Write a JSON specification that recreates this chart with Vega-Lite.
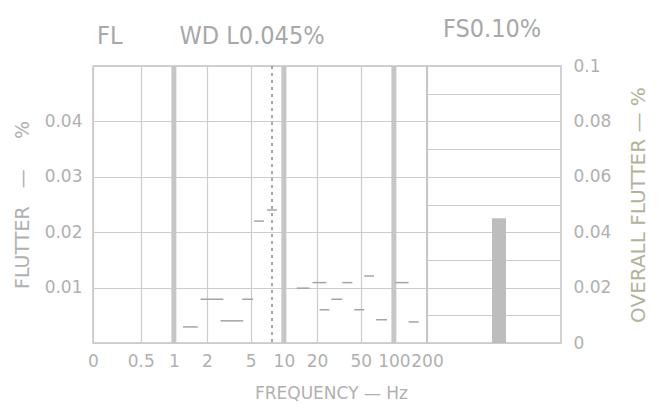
{
  "$schema": "https://vega.github.io/schema/vega-lite/v6.json",
  "background": "white",
  "padding": {"left": 12, "top": 16, "right": 10, "bottom": 5},
  "bounds": "flush",
  "spacing": 0,
  "config": {
    "view": {"stroke": "#c4c4c4", "strokeWidth": 1.5},
    "axis": {
      "labelFont": "DejaVu Sans", "labelFontSize": 17, "labelColor": "#b0b0b0",
      "titleFont": "DejaVu Sans", "titleFontWeight": "normal", "titleColor": "#b0b0b0",
      "domain": false, "ticks": false, "gridColor": "#cccccc", "gridWidth": 1.2
    },
    "title": {"font": "DejaVu Sans Condensed, DejaVu Sans", "fontSize": 25, "fontWeight": "normal", "color": "#a8a8a8", "baseline": "alphabetic", "offset": 15}
  },
  "datasets": {
    "decades": [{"freq": 1}, {"freq": 10}, {"freq": 100}],
    "marker": [{"freq": 7.8}],
    "bands": [
      {"f_lo": 1.21, "f_hi": 1.65, "flutter": 0.0029},
      {"f_lo": 1.75, "f_hi": 2.82, "flutter": 0.0079},
      {"f_lo": 2.65, "f_hi": 4.27, "flutter": 0.0040},
      {"f_lo": 4.19, "f_hi": 5.26, "flutter": 0.0079},
      {"f_lo": 5.37, "f_hi": 6.6, "flutter": 0.0220},
      {"f_lo": 7.03, "f_hi": 8.65, "flutter": 0.0240},
      {"f_lo": 13.1, "f_hi": 17.1, "flutter": 0.0099},
      {"f_lo": 18.2, "f_hi": 24.4, "flutter": 0.0109},
      {"f_lo": 21.1, "f_hi": 25.9, "flutter": 0.0060},
      {"f_lo": 27, "f_hi": 34, "flutter": 0.0079},
      {"f_lo": 34, "f_hi": 41.9, "flutter": 0.0109},
      {"f_lo": 43.6, "f_hi": 53.7, "flutter": 0.0060},
      {"f_lo": 53.7, "f_hi": 66, "flutter": 0.0121},
      {"f_lo": 68.9, "f_hi": 86.5, "flutter": 0.0042},
      {"f_lo": 104, "f_hi": 136, "flutter": 0.0109},
      {"f_lo": 136, "f_hi": 168, "flutter": 0.0038}
    ],
    "overall": [{"measure": "overall", "flutter": 0.045}]
  },
  "hconcat": [
    {
      "width": 334,
      "height": 277,
      "title": {"text": "FL\u00a0\u00a0\u00a0\u00a0\u00a0\u00a0\u00a0\u00a0WD L0.045%", "anchor": "start", "frame": "group", "dx": 4},
      "layer": [
        {
          "data": {"name": "decades"},
          "mark": {"type": "rule", "color": "#c6c6c6", "strokeWidth": 5},
          "encoding": {
            "x": {
              "field": "freq", "type": "quantitative",
              "scale": {"type": "log", "domain": [0.184, 200], "nice": false, "zero": false},
              "axis": {
                "values": [0.184, 0.5, 1, 2, 5, 10, 20, 50, 100, 200],
                "labelExpr": "datum.value < 0.3 ? '0' : toString(datum.value)",
                "labelFlush": false, "labelOverlap": false, "labelPadding": 10,
                "grid": true,
                "title": "FREQUENCY \u2014 Hz", "titleFontSize": 17,
                "titleX": 238, "titleY": 55, "titleBaseline": "alphabetic"
              }
            }
          }
        },
        {
          "data": {"name": "marker"},
          "mark": {"type": "rule", "color": "#8a8a8a", "strokeWidth": 1.5, "strokeDash": [3, 4]},
          "encoding": {"x": {"field": "freq", "type": "quantitative"}}
        },
        {
          "data": {"name": "bands"},
          "mark": {"type": "rule", "color": "#a4a4a4", "strokeWidth": 1.5},
          "encoding": {
            "x": {"field": "f_lo", "type": "quantitative"},
            "x2": {"field": "f_hi"},
            "y": {
              "field": "flutter", "type": "quantitative",
              "scale": {"domain": [0, 0.05], "nice": false},
              "axis": {
                "values": [0, 0.01, 0.02, 0.03, 0.04, 0.05],
                "labelExpr": "datum.value < 0.005 || datum.value > 0.045 ? '' : format(datum.value, '.2f')",
                "labelPadding": 11, "grid": true,
                "title": "FLUTTER\u00a0\u00a0\u00a0\u2014\u00a0\u00a0\u00a0\u00a0\u00a0%", "titleFontSize": 19, "titlePadding": 12
              }
            }
          }
        }
      ]
    },
    {
      "width": 134,
      "height": 277,
      "title": {"text": "FS0.10%", "anchor": "start", "frame": "group", "dx": 16},
      "data": {"name": "overall"},
      "mark": {"type": "bar", "width": 14, "color": "#bdbdbd", "xOffset": 5},
      "encoding": {
        "x": {"field": "measure", "type": "nominal", "axis": null},
        "y": {
          "field": "flutter", "type": "quantitative",
          "scale": {"domain": [0, 0.1], "nice": false},
          "axis": {
            "orient": "right",
            "values": [0, 0.01, 0.02, 0.03, 0.04, 0.05, 0.06, 0.07, 0.08, 0.09, 0.1],
            "labelExpr": "round(datum.value * 100) % 2 == 1 ? '' : (datum.value == 0 ? '0' : (datum.value > 0.095 ? '0.1' : format(datum.value, '.2f')))",
            "labelPadding": 12, "grid": true,
            "title": "OVERALL FLUTTER \u2014 %", "titleFontSize": 20, "titleAngle": 270,
            "titleBaseline": "top", "titlePadding": 18, "titleColor": "#b3b39c"
          }
        }
      }
    }
  ]
}
